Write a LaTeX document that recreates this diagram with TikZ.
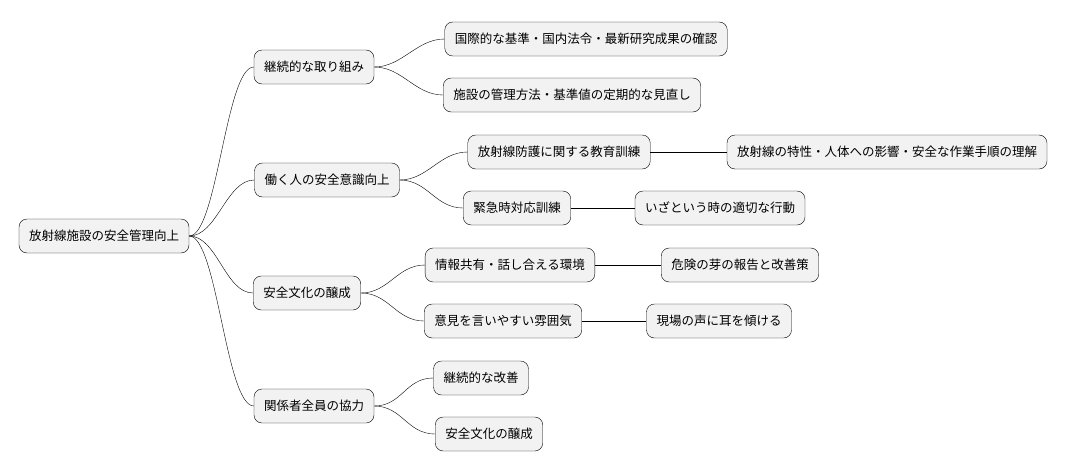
\documentclass[tikz,border=0pt]{standalone}
\usepackage{fontspec}
\setmainfont{Noto Sans CJK JP}
\begin{document}
\begin{tikzpicture}[x=1pt, y=-1pt,
  topic/.style={draw, thin, rounded corners=8pt, fill=gray!10, font=\fontsize{12.5}{14}\selectfont,
    inner xsep=10pt, minimum height=34pt},
  branch/.style={thin}]

  \useasboundingbox (0,0) rectangle (1076,471);

  % root
  \node[topic] (root) at (104,236) {放射線施設の安全管理向上};

  % first level
  \node[topic] (keizoku) at (314,67) {継続的な取り組み};
  \node[topic] (ishiki) at (327,180) {働く人の安全意識向上};
  \node[topic] (bunka) at (307,293) {安全文化の醸成};
  \node[topic] (kyoryoku) at (314,406) {関係者全員の協力};

  % second level
  \node[topic] (kijun) at (586,39) {国際的な基準・国内法令・最新研究成果の確認};
  \node[topic] (kanri) at (572,95) {施設の管理方法・基準値の定期的な見直し};
  \node[topic] (kyoiku) at (559,152) {放射線防護に関する教育訓練};
  \node[topic] (kinkyu) at (517,208) {緊急時対応訓練};
  \node[topic] (joho) at (510,265) {情報共有・話し合える環境};
  \node[topic] (iken) at (503,321) {意見を言いやすい雰囲気};
  \node[topic] (kaizen) at (481,378) {継続的な改善};
  \node[topic] (bunka2) at (489,434) {安全文化の醸成};

  % third level
  \node[topic] (tokusei) at (887,152) {放射線の特性・人体への影響・安全な作業手順の理解};
  \node[topic] (kodo) at (720,208) {いざという時の適切な行動};
  \node[topic] (kiken) at (740,265) {危険の芽の報告と改善策};
  \node[topic] (koe) at (719,321) {現場の声に耳を傾ける};

  % connectors
  \foreach \a/\b in {root/keizoku, root/ishiki, root/bunka, root/kyoryoku,
      keizoku/kijun, keizoku/kanri, ishiki/kyoiku, ishiki/kinkyu,
      bunka/joho, bunka/iken, kyoryoku/kaizen, kyoryoku/bunka2}
    \draw[branch] (\a.east) .. controls +(28,0) and +(-28,0) .. (\b.west);

  \foreach \a/\b in {kyoiku/tokusei, kinkyu/kodo, joho/kiken, iken/koe}
    \draw[branch] (\a.east) -- (\b.west);

\end{tikzpicture}
\end{document}
